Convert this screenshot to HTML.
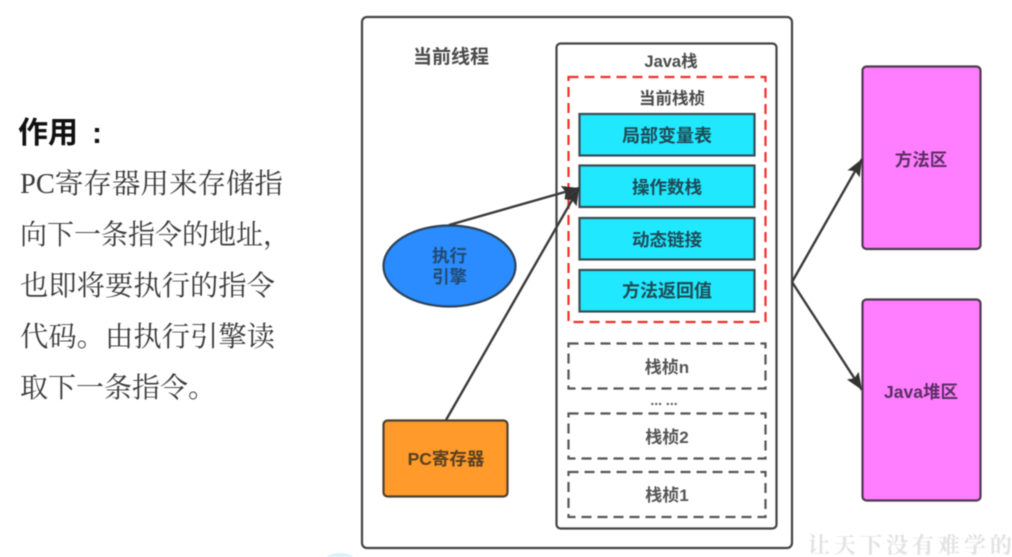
<!DOCTYPE html>
<html>
<head>
<meta charset="utf-8">
<style>
html,body{margin:0;padding:0;background:#fff;width:1012px;height:557px;overflow:hidden}
svg{display:block;filter:blur(.6px)}
.s{font-family:"Liberation Sans","Noto Sans CJK SC",sans-serif;font-weight:700;text-anchor:middle;font-size:17.5px;fill:#4a4a4a}
.b{font-family:"Liberation Serif","Noto Serif CJK SC",serif;font-size:28px;fill:#3a3a3a}
</style>
</head>
<body>
<svg width="1012" height="557" viewBox="0 0 1012 557" xmlns="http://www.w3.org/2000/svg">
<defs>
<marker id="a" markerUnits="userSpaceOnUse" markerWidth="20" markerHeight="16" refX="17" refY="7" orient="auto"><path d="M0 0L17 7L0 14L3 7Z" fill="#333"/></marker>
</defs>
<rect width="1012" height="557" fill="#fff"/>

<text x="18" y="143" style="font-family:'Liberation Sans','Noto Sans CJK SC',sans-serif;font-weight:700;font-size:30px;fill:#111">作用</text>
<text x="92" y="143" style="font-family:'Liberation Sans',sans-serif;font-weight:700;font-size:30px;fill:#111">:</text>
<text class="b" x="20" y="193" textLength="263" lengthAdjust="spacingAndGlyphs">PC寄存器用来存储指</text>
<text class="b" x="20" y="244" textLength="270" lengthAdjust="spacingAndGlyphs">向下一条指令的地址，</text>
<text class="b" x="20" y="295" textLength="255" lengthAdjust="spacingAndGlyphs">也即将要执行的指令</text>
<text class="b" x="20" y="346" textLength="255" lengthAdjust="spacingAndGlyphs">代码。由执行引擎读</text>
<text class="b" x="20" y="397">取下一条指令。</text>

<rect x="362" y="17" width="430" height="531" rx="5" fill="#fff" stroke="#444" stroke-width="2.2"/>
<rect x="556.500" y="43.500" width="220" height="485" rx="4" fill="#fff" stroke="#444" stroke-width="2.200"/>
<text class="s" x="451" y="63" style="font-size:19px">当前线程</text>
<text class="s" x="671" y="67" style="font-size:16.500px">Java栈</text>

<rect x="568.500" y="77" width="197" height="245" fill="#fff" stroke="#f0302c" stroke-width="2.200" stroke-dasharray="10 6"/>
<text class="s" x="672" y="104" style="font-size:16.500px">当前栈桢</text>

<g fill="#1fe8ff" stroke="#3d4a50" stroke-width="2.200">
<rect x="579.500" y="114" width="175" height="41.500"/>
<rect x="579.500" y="165.500" width="175" height="41.500"/>
<rect x="579.500" y="218" width="175" height="41.500"/>
<rect x="579.500" y="270" width="175" height="41.500"/>
</g>
<text class="s" x="667" y="142" style="fill:#1f4a55;font-size:18px">局部变量表</text>
<text class="s" x="667" y="193.500" style="fill:#1f4a55">操作数栈</text>
<text class="s" x="667" y="246" style="fill:#1f4a55">动态链接</text>
<text class="s" x="667" y="297" style="fill:#1f4a55;font-size:18px">方法返回值</text>

<g fill="#fff" stroke="#555" stroke-width="2.200" stroke-dasharray="10 6">
<rect x="568.500" y="343.500" width="197" height="45"/>
<rect x="568.500" y="413.500" width="197" height="45"/>
<rect x="568.500" y="472" width="197" height="45"/>
</g>
<text class="s" x="667" y="373" style="font-size:17px;fill:#555">栈桢n</text>
<text class="s" x="667" y="443" style="font-size:17px;fill:#555">栈桢2</text>
<text class="s" x="667" y="501" style="font-size:17px;fill:#555">栈桢1</text>
<text class="s" x="664" y="405" style="font-size:14px;fill:#555">... ...</text>

<ellipse cx="449.500" cy="266" rx="66" ry="40.500" fill="#2a8cff" stroke="#2f4258" stroke-width="2.200"/>
<text class="s" x="449.500" y="262" style="fill:#234a70">执行</text>
<text class="s" x="449.500" y="283" style="fill:#234a70">引擎</text>

<rect x="383.500" y="420.500" width="124" height="76" rx="4" fill="#ff9a2b" stroke="#4d4030" stroke-width="2.200"/>
<text class="s" x="446" y="465" style="fill:#5a4020">PC寄存器</text>

<rect x="862.500" y="66.500" width="118" height="182.500" rx="4" fill="#ff7dff" stroke="#4c3a4c" stroke-width="2.200"/>
<rect x="862.500" y="299.500" width="118" height="201" rx="4" fill="#ff7dff" stroke="#4c3a4c" stroke-width="2.200"/>
<text class="s" x="921" y="166" style="fill:#5a2f62">方法区</text>
<text class="s" x="921" y="398" style="fill:#5a2f62">Java堆区</text>

<g fill="none" stroke="#3a3a3a" stroke-width="2.400">
<line x1="449" y1="225" x2="579" y2="188" marker-end="url(#a)"/>
<line x1="446" y1="420" x2="579" y2="188" marker-end="url(#a)"/>
<line x1="792" y1="282" x2="862" y2="159" marker-end="url(#a)"/>
<line x1="792" y1="282" x2="862" y2="390" marker-end="url(#a)"/>
</g>

<text x="808" y="553" style="font-family:'Noto Serif CJK SC',serif;font-size:22px;fill:#e2e2e2;letter-spacing:4px;font-weight:700">让天下没有难学的</text>
<ellipse cx="340" cy="566" rx="20" ry="13" fill="#d8f3fb"/>
</svg>
</body>
</html>
